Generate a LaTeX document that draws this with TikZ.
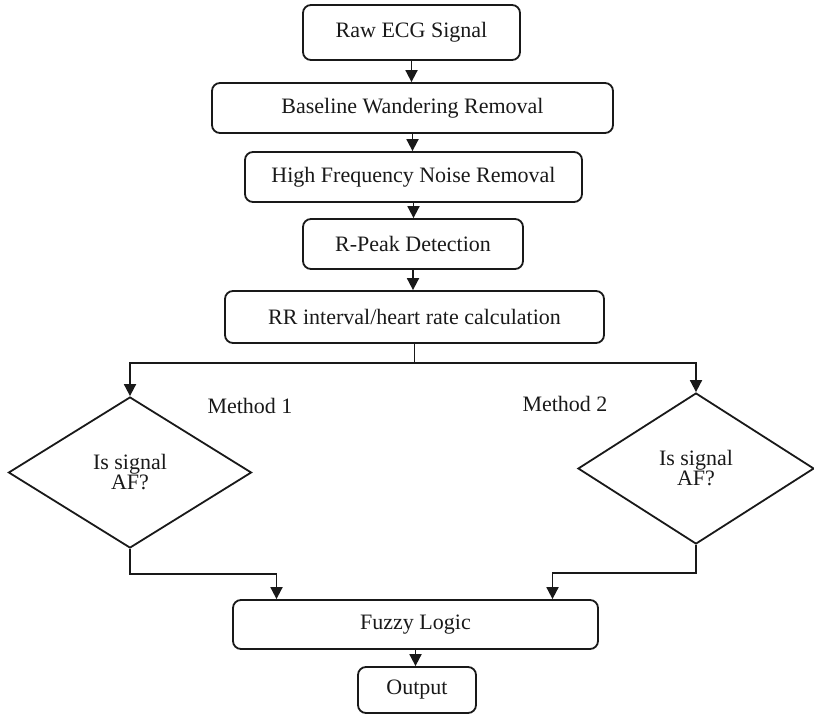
\documentclass[tikz,border=0pt]{standalone}
\usepackage{fontspec}
\setmainfont{Liberation Serif}
\usetikzlibrary{shapes.geometric,arrows.meta}

\begin{document}
\begin{tikzpicture}[x=1pt, y=-1pt, line width=1.8pt,
	box/.style = {draw=black!90, rounded corners=8pt, inner sep=0pt, text=black!90, font=\fontsize{22}{20}\selectfont},
	decision/.style = {draw=black!90, diamond, inner sep=0pt, align=center, text=black!90, font=\fontsize{22}{20}\selectfont},
	methodtext/.style = {text=black!90, font=\fontsize{22}{26}\selectfont},
	arrow/.style = {draw=black!90, -{Triangle[width=12pt,length=12pt]}}]
	\useasboundingbox (0,0) rectangle (814,715);

	% preprocessing chain
	\node[box, minimum width=217pt, minimum height=55pt] (raw) at (411.5,32.5) {Raw ECG Signal};
	\node[box, minimum width=401pt, minimum height=50pt] (base) at (412.5,108) {Baseline Wandering Removal};
	\node[box, minimum width=337pt, minimum height=50pt] (hf) at (413.5,177) {High Frequency Noise Removal};
	\node[box, minimum width=220pt, minimum height=50pt] (rpeak) at (413,244) {R-Peak Detection};
	\node[box, minimum width=379pt, minimum height=52pt] (rr) at (414.5,317) {RR interval/heart rate calculation};

	\draw[arrow] (raw.south) -- (raw.south |- base.north);
	\draw[arrow] (base.south) -- (base.south |- hf.north);
	\draw[arrow] (hf.south) -- (hf.south |- rpeak.north);
	\draw[arrow] (rpeak.south) -- (rpeak.south |- rr.north);

	% the two methods
	\node[decision, minimum width=243pt, minimum height=151pt] (af1) at (130,472.5) {Is signal\\AF?};
	\node[decision, minimum width=236pt, minimum height=151pt] (af2) at (696,468.5) {Is signal\\AF?};
	\node[methodtext] (m1) at (250,406) {Method 1};
	\node[methodtext] (m2) at (565,404) {Method 2};

	\path (rr.south) ++(0,19) coordinate (split);
	\draw[draw=black!90] (rr.south) -- (split);
	\draw[arrow] (split) -| (af1.north);
	\draw[arrow] (split) -| (af2.north);

	% decision stage
	\node[box, minimum width=365pt, minimum height=49pt] (fuzzy) at (415.5,624.5) {Fuzzy Logic};
	\node[box, minimum width=118pt, minimum height=46pt] (out) at (417,690) {Output};

	\draw[arrow] (af1.south) -- ++(0,25) -| ([xshift=-139pt]fuzzy.north);
	\draw[arrow] (af2.south) -- ++(0,28) -| ([xshift=137pt]fuzzy.north);
	\draw[arrow] (fuzzy.south) -- (fuzzy.south |- out.north);
\end{tikzpicture}
\end{document}
